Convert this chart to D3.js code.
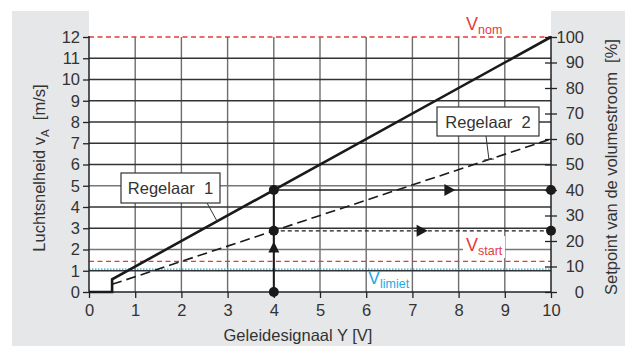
<!DOCTYPE html>
<html>
<head>
<meta charset="utf-8">
<script src="https://cdn.jsdelivr.net/npm/d3@7"></script>
<style>
  html, body { margin: 0; padding: 0; background: #fff; }
  svg { display: block; font-family: "Liberation Sans", Arial, sans-serif; }
</style>
</head>
<body>
<svg id="chart" width="625" height="346"></svg>
<script>
// Control signal (V) → air velocity (m/s) / setpoint (%)
const xTicks = [0, 1, 2, 3, 4, 5, 6, 7, 8, 9, 10];
const yTicks = [0, 1, 2, 3, 4, 5, 6, 7, 8, 9, 10, 11, 12];
const pctTicks = [0, 10, 20, 30, 40, 50, 60, 70, 80, 90, 100];

// Characteristic curves (signal Y, velocity vA)
const regelaar1 = [[0, 0], [0.5, 0], [0.5, 0.6], [10, 12]];
const regelaar2 = [[0.5, 0.36], [10, 7.2]];

// Reference velocities
const vNom = 12;
const vStart = 1.44;
const vLimiet = 1.08;

// Worked example at Y = 4 V
const signalY = 4;
const opVel1 = 4.8;
const opVel2 = 2.88;
const arrowUpAt = 2.1;
const arrow1At = 7.8;
const arrow2At = 7.2;

const svg = d3.select("#chart");
const W = 625, H = 346;
const m = { left: 89, right: 551, top: 37, bottom: 292 };

const x = d3.scaleLinear().domain([0, 10]).range([m.left, m.right]);
const y = d3.scaleLinear().domain([0, 12]).range([m.bottom, m.top]);
const yPct = d3.scaleLinear().domain([0, 100]).range([m.bottom, m.top]);

const textCol = "#333";
const red = "#e8383d";
const blue = "#29a8e0";
const fontFam = "'Liberation Sans', Arial, sans-serif";

// Panel background with white plotting window
svg.append("rect").attr("x", 12).attr("y", 11).attr("width", W - 12).attr("height", H - 11).attr("fill", "#e6e7e8");
svg.append("rect").attr("x", m.left).attr("y", 11).attr("width", m.right - m.left).attr("height", m.bottom - 11).attr("fill", "#fff");

// Grid
const grid = svg.append("g");
grid.selectAll("line.v").data(xTicks.filter(d => d > 0 && d < 10)).join("line")
  .attr("x1", d => x(d)).attr("x2", d => x(d))
  .attr("y1", y(0)).attr("y2", y(12))
  .attr("stroke", "#6d6d6d").attr("stroke-width", 1.4);
grid.selectAll("line.h").data(yTicks.filter(d => d > 0 && d < 12)).join("line")
  .attr("x1", x(0)).attr("x2", x(10))
  .attr("y1", d => y(d)).attr("y2", d => y(d))
  .attr("stroke", d => (d === 2 || d === 5) ? "#777" : "#333").attr("stroke-width", 1.3);

// Reference lines
svg.append("line").attr("x1", x(0)).attr("x2", x(10)).attr("y1", y(vNom)).attr("y2", y(vNom))
  .attr("stroke", red).attr("stroke-width", 1.3).attr("stroke-dasharray", "5,3.5");
svg.append("line").attr("x1", x(0)).attr("x2", x(10)).attr("y1", y(vStart)).attr("y2", y(vStart))
  .attr("stroke", red).attr("stroke-width", 1.3).attr("stroke-dasharray", "5,3.5");
svg.append("line").attr("x1", x(0)).attr("x2", x(10)).attr("y1", y(vLimiet)).attr("y2", y(vLimiet))
  .attr("stroke", blue).attr("stroke-width", 1.3).attr("stroke-dasharray", "1.5,1.5");

// Axes
const tickFont = 16.5;
const axL = svg.append("g").attr("transform", `translate(${m.left},0)`)
  .call(d3.axisLeft(y).tickValues(yTicks).tickSize(6).tickPadding(3).tickFormat(d3.format("d")));
const axR = svg.append("g").attr("transform", `translate(${m.right},0)`)
  .call(d3.axisRight(yPct).tickValues(pctTicks).tickSize(6).tickPadding(0).tickFormat(d3.format("d")));
const axB = svg.append("g").attr("transform", `translate(0,${m.bottom})`)
  .call(d3.axisBottom(x).tickValues(xTicks).tickSize(6).tickPadding(4).tickFormat(d3.format("d")));
[axL, axR, axB].forEach(a => {
  a.select(".domain").attr("stroke", "#222").attr("stroke-width", 1.5);
  a.selectAll(".tick line").attr("stroke", "#222").attr("stroke-width", 1.3);
  a.selectAll(".tick text").attr("fill", textCol).style("font-size", tickFont + "px")
    .style("font-family", fontFam);
});
axL.select(".domain").attr("d", `M0,${m.bottom}V${m.top - 1}`);
axR.select(".domain").attr("d", `M0,${m.bottom}V${m.top - 1}`);
axB.select(".domain").attr("d", `M${m.left},0H${m.right}`);
// right ticks cross the axis, right-aligned labels
axR.selectAll(".tick line").attr("x1", -6).attr("x2", 6);
axR.selectAll(".tick text").attr("text-anchor", "end").attr("x", 33);
axB.selectAll(".tick text").attr("dy", "0.85em");

// Curves
const line = d3.line().x(d => x(d[0])).y(d => y(d[1]));
svg.append("path").datum(regelaar2).attr("d", line)
  .attr("fill", "none").attr("stroke", "#1a1a1a").attr("stroke-width", 1.6).attr("stroke-dasharray", "10,5");
svg.append("path").datum(regelaar1).attr("d", line)
  .attr("fill", "none").attr("stroke", "#1a1a1a").attr("stroke-width", 2.6).attr("stroke-linejoin", "miter");

// Operating point construction
svg.append("line").attr("x1", x(signalY)).attr("x2", x(signalY)).attr("y1", y(0)).attr("y2", y(opVel1))
  .attr("stroke", "#1a1a1a").attr("stroke-width", 2);
svg.append("line").attr("x1", x(signalY)).attr("x2", x(10)).attr("y1", y(opVel1)).attr("y2", y(opVel1))
  .attr("stroke", "#1a1a1a").attr("stroke-width", 1.6);
svg.append("line").attr("x1", x(signalY)).attr("x2", x(10)).attr("y1", y(opVel2)).attr("y2", y(opVel2))
  .attr("stroke", "#1a1a1a").attr("stroke-width", 1.3).attr("stroke-dasharray", "4,3");

const dots = [[signalY, 0], [signalY, opVel1], [signalY, opVel2], [10, opVel1], [10, opVel2]];
svg.selectAll("circle.pt").data(dots).join("circle")
  .attr("cx", d => x(d[0])).attr("cy", d => y(d[1])).attr("r", 5).attr("fill", "#1a1a1a");

// Arrowheads
const tri = (cx, cy, dir) => {
  if (dir === "up") return `M${cx},${cy - 6}L${cx + 5.5},${cy + 5}L${cx - 5.5},${cy + 5}Z`;
  return `M${cx + 6},${cy}L${cx - 5},${cy - 6}L${cx - 5},${cy + 6}Z`;
};
svg.append("path").attr("d", tri(x(signalY), y(arrowUpAt), "up")).attr("fill", "#1a1a1a");
svg.append("path").attr("d", tri(x(arrow1At), y(opVel1), "right")).attr("fill", "#1a1a1a");
svg.append("path").attr("d", tri(x(arrow2At), y(opVel2), "right")).attr("fill", "#1a1a1a");

// Reference labels with subscripts
function vLabel(px, py, sub, col, bg) {
  const g = svg.append("g");
  if (bg) g.append("rect").attr("x", px - 3).attr("y", py - 15).attr("width", bg).attr("height", 22).attr("fill", "#fff");
  const t = g.append("text").attr("x", px).attr("y", py).attr("fill", col).style("font-size", "18px");
  t.append("tspan").text("V");
  t.append("tspan").attr("dy", 4).style("font-size", "12.5px").text(sub);
}
vLabel(466, 30, "nom", red);
vLabel(466, 251, "start", red, 42);
vLabel(368, 284, "limiet", blue);

// Callout boxes
function callout(bx, by, bw, bh, label, lx1, ly1, lx2, ly2) {
  svg.append("line").attr("x1", lx1).attr("y1", ly1).attr("x2", lx2).attr("y2", ly2)
    .attr("stroke", "#333").attr("stroke-width", 1);
  svg.append("rect").attr("x", bx).attr("y", by).attr("width", bw).attr("height", bh)
    .attr("fill", "#fff").attr("stroke", "#333").attr("stroke-width", 1.2);
  svg.append("text").attr("x", bx + bw / 2).attr("y", by + bh / 2 + 6).attr("text-anchor", "middle")
    .attr("fill", textCol).style("font-size", "16.5px").text(label);
}
callout(121, 173, 99, 30, "Regelaar\u00a0\u00a01", 207, 203, 217, 221);
callout(437, 107, 102, 29, "Regelaar\u00a0\u00a02", 486, 136, 489, 160);
svg.append("line").attr("x1", 484).attr("x2", 494).attr("y1", 160).attr("y2", 159).attr("stroke", "#333").attr("stroke-width", 1);

// Axis titles
const lt = svg.append("text").attr("transform", `translate(45,168) rotate(-90)`).attr("text-anchor", "middle")
  .attr("fill", textCol).style("font-size", "16.5px");
lt.append("tspan").text("Luchtsnelheid v");
lt.append("tspan").attr("dy", 4).style("font-size", "11.5px").text("A");
lt.append("tspan").attr("dy", -4).text("\u00a0\u00a0[m/s]");

svg.append("text").attr("transform", `translate(617,167) rotate(-90)`).attr("text-anchor", "middle")
  .attr("fill", textCol).style("font-size", "16.5px").text("Setpoint van de volumestroom\u00a0\u00a0[%]");

svg.append("text").attr("x", 298).attr("y", 341).attr("text-anchor", "middle")
  .attr("fill", textCol).style("font-size", "16.5px").text("Geleidesignaal Y [V]");
</script>
</body>
</html>
